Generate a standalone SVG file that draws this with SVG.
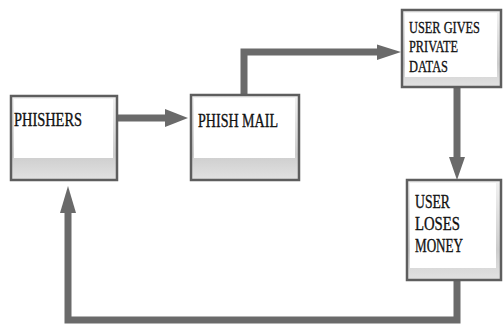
<svg xmlns="http://www.w3.org/2000/svg" width="503" height="325" viewBox="0 0 503 325">
<defs>
<linearGradient id="boxg" x1="0" y1="0" x2="0" y2="1">
<stop offset="0" stop-color="#f2f2f2"/>
<stop offset="0.7" stop-color="#cdcdcd"/>
<stop offset="1" stop-color="#e2e2e2"/>
</linearGradient>
</defs>
<style>
.outer{fill:url(#boxg);stroke:#5e5e5e;stroke-width:2.5}
.inner{fill:#ffffff}
.lbl{font-family:"Liberation Serif","Times New Roman",serif;font-size:13.5px;fill:#111;stroke:#111;stroke-width:0.25}
.con{fill:none;stroke:#6a6a6a;stroke-width:7;stroke-linejoin:miter}
.head{fill:#6a6a6a}
</style>
<rect width="503" height="325" fill="#ffffff"/>
<g id="connectors">
<path class="con" d="M117 118 H168"/>
<polygon class="head" points="165,109 188,118 165,127"/>
<path class="con" d="M244 95 V52 H380"/>
<polygon class="head" points="377,44.5 401,52 377,60"/>
<path class="con" d="M457 87 V160"/>
<polygon class="head" points="449,157 465,157 457,180"/>
<path class="con" d="M457 280 V320 H68 V210"/>
<polygon class="head" points="60,213 76,213 68,186"/>
</g>
<g id="phishers">
<rect class="outer" x="11" y="96" width="106" height="84"/>
<rect class="inner" x="14" y="99" width="99" height="59"/>
<text class="lbl" transform="translate(14,126) scale(1,1.45)" textLength="68" lengthAdjust="spacingAndGlyphs">PHISHERS</text>
</g>
<g id="phish-mail">
<rect class="outer" x="191" y="95" width="108" height="85"/>
<rect class="inner" x="194" y="98" width="101" height="60"/>
<text class="lbl" transform="translate(198,127) scale(1,1.45)" textLength="80" lengthAdjust="spacingAndGlyphs">PHISH MAIL</text>
</g>
<g id="user-gives">
<rect class="outer" x="402" y="10" width="99" height="77"/>
<rect class="inner" x="405" y="13" width="92" height="64"/>
<text class="lbl" transform="translate(409,33) scale(1,1.25)"><tspan x="0" y="0" textLength="71" lengthAdjust="spacingAndGlyphs">USER GIVES</tspan><tspan x="0" y="15.4" textLength="49" lengthAdjust="spacingAndGlyphs">PRIVATE</tspan><tspan x="0" y="31.2" textLength="39" lengthAdjust="spacingAndGlyphs">DATAS</tspan></text>
</g>
<g id="user-loses">
<rect class="outer" x="407" y="180" width="94" height="100"/>
<rect class="inner" x="410" y="183" width="86" height="85"/>
<text class="lbl" transform="translate(415,208) scale(1,1.45)"><tspan x="0" y="0" textLength="35" lengthAdjust="spacingAndGlyphs">USER</tspan><tspan x="0" y="15.2" textLength="45" lengthAdjust="spacingAndGlyphs">LOSES</tspan><tspan x="0" y="30.3" textLength="48" lengthAdjust="spacingAndGlyphs">MONEY</tspan></text>
</g>
</svg>
